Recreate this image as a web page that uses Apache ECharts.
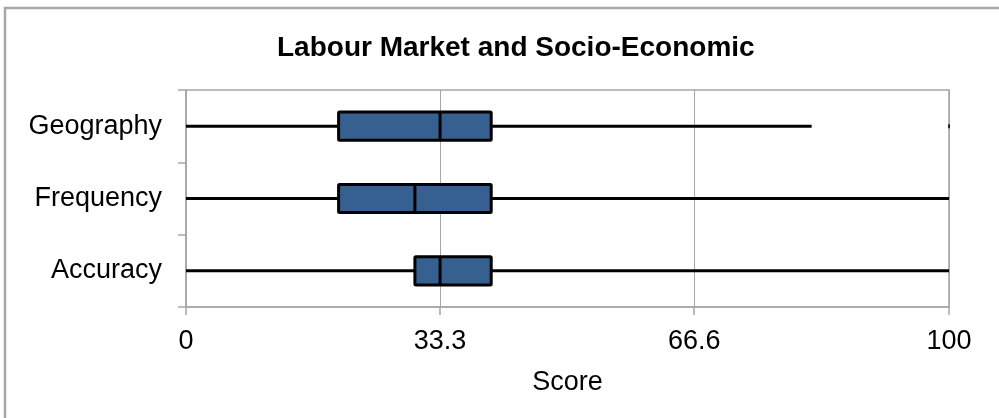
<!DOCTYPE html>
<html>
<head>
<meta charset="utf-8">
<script src="https://cdn.jsdelivr.net/npm/echarts@6/dist/echarts.min.js"></script>
<style>
    html, body { margin: 0; padding: 0; background: #fff; }
    #main { width: 999px; height: 418px; }
</style>
</head>
<body>
<div id="main"></div>
<script>
    // data
    var categories = ['Geography', 'Frequency', 'Accuracy'];
    var minValues = [0, 0, 0];
    var q1Values = [20, 20, 30];
    var medianValues = [33.3, 30, 33.3];
    var q3Values = [40, 40, 40];
    var maxValues = [82, 100, 100];
    var outlierPoints = [[100, 'Geography']];
    var tickValues = [0, 33.3, 66.6, 100];

    var boxData = categories.map(function (name, i) {
        return [i, minValues[i], q1Values[i], medianValues[i], q3Values[i], maxValues[i]];
    });

    function renderBox(params, api) {
        var idx = api.value(0);
        var y = api.coord([0, idx])[1];
        var h = api.size([0, 1])[1] * 0.39;
        var xMin = api.coord([api.value(1), idx])[0];
        var xQ1 = api.coord([api.value(2), idx])[0];
        var xMed = api.coord([api.value(3), idx])[0];
        var xQ3 = api.coord([api.value(4), idx])[0];
        var xMax = api.coord([api.value(5), idx])[0];
        var lineStyle = { stroke: '#000', lineWidth: 3 };
        return {
            type: 'group',
            children: [
                { type: 'line', shape: { x1: xMin, y1: y, x2: xQ1, y2: y }, style: lineStyle },
                { type: 'line', shape: { x1: xQ3, y1: y, x2: xMax, y2: y }, style: lineStyle },
                { type: 'rect', shape: { x: xQ1, y: y - h / 2, width: xQ3 - xQ1, height: h, r: 1 },
                  style: { fill: '#35608f', stroke: '#000', lineWidth: 3 } },
                { type: 'line', shape: { x1: xMed, y1: y - h / 2, x2: xMed, y2: y + h / 2 },
                  style: { stroke: '#000', lineWidth: 3 } }
            ]
        };
    }

    var my_chart = echarts.init(document.getElementById('main'));
    var option = {
        animation: false,
        backgroundColor: '#fff',
        textStyle: { fontFamily: 'Liberation Sans' },
        graphic: [{
            type: 'rect',
            shape: { x: 5, y: 8, width: 1100, height: 600 },
            style: { fill: 'none', stroke: '#a6a6a6', lineWidth: 2.5 },
            silent: true
        }],
        title: {
            text: 'Labour Market and Socio-Economic',
            left: 272,
            top: 29,
            textStyle: { fontFamily: 'Liberation Sans', fontWeight: 'bold', fontSize: 28, color: '#000' }
        },
        grid: {
            left: 186, top: 90, right: 50, bottom: 111,
            show: true, borderColor: '#a6a6a6', borderWidth: 1.5
        },
        xAxis: {
            type: 'value',
            min: 0,
            max: 100,
            name: 'Score',
            nameLocation: 'middle',
            nameGap: 62,
            nameTextStyle: { fontSize: 27, color: '#000' },
            axisLine: { show: true, lineStyle: { color: '#a6a6a6', width: 1.5 } },
            axisTick: { show: true, length: 8, customValues: tickValues, lineStyle: { color: '#a6a6a6', width: 1.5 } },
            axisLabel: { customValues: tickValues, margin: 21, fontSize: 27, color: '#000',
                formatter: function (v) { return String(v); } },
            splitLine: { show: true, lineStyle: { color: '#a6a6a6', width: 1 } }
        },
        yAxis: {
            type: 'category',
            inverse: true,
            data: categories,
            axisLine: { show: true, lineStyle: { color: '#a6a6a6', width: 1.5 } },
            axisTick: { show: true, length: 8, lineStyle: { color: '#a6a6a6', width: 1.5 } },
            axisLabel: { margin: 24, fontSize: 27, color: '#000' },
            splitLine: { show: false }
        },
        series: [{
            type: 'custom',
            renderItem: renderBox,
            data: boxData,
            encode: { x: [1, 2, 3, 4, 5], y: 0 },
            z: 3
        }, {
            type: 'scatter',
            data: outlierPoints,
            symbol: 'rect',
            symbolSize: [2, 4],
            itemStyle: { color: '#000' },
            z: 4
        }]
    };
    my_chart.setOption(option);
</script>
</body>
</html>
